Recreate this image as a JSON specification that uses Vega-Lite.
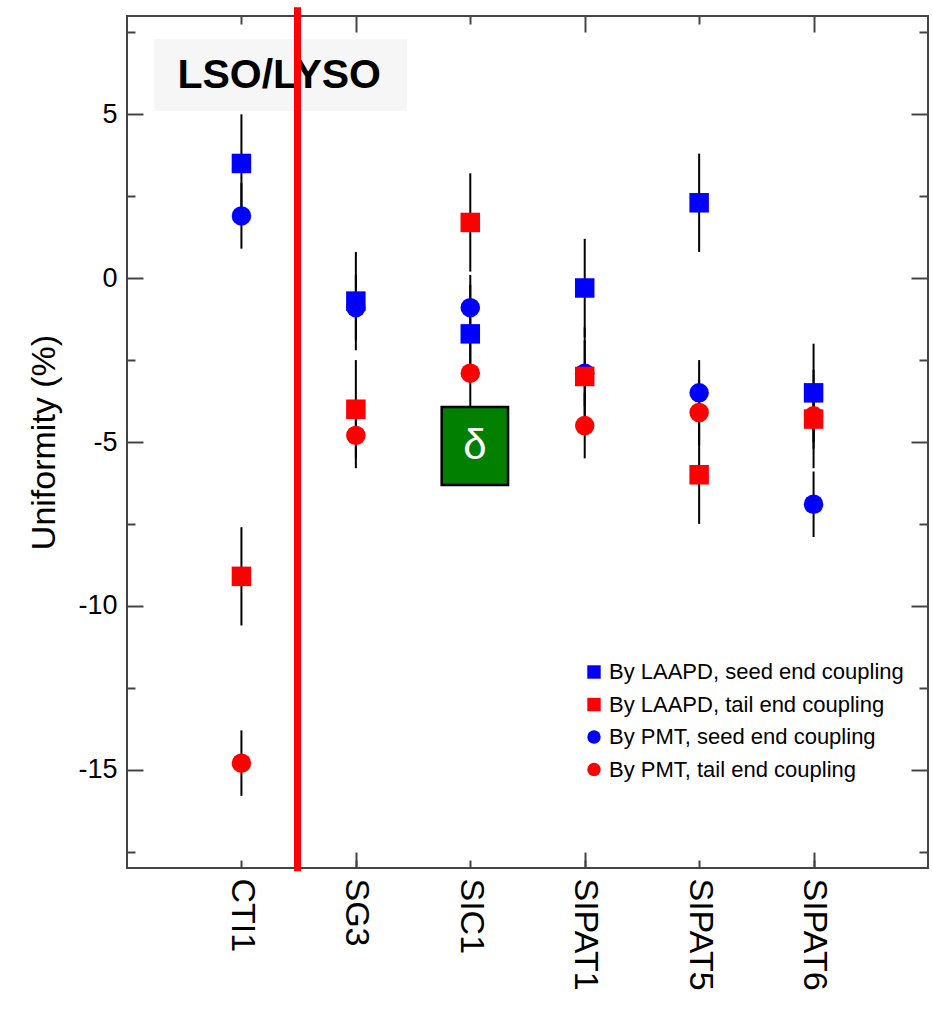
{
  "$schema": "https://vega.github.io/schema/vega-lite/v6.json",
  "width": 801,
  "height": 852,
  "autosize": {"type": "none"},
  "padding": {"left": 127, "top": 16, "right": 4, "bottom": 142},
  "background": "white",
  "config": {
    "font": "Liberation Sans",
    "view": {"stroke": "#444", "strokeWidth": 2},
    "axis": {"grid": false, "domain": false, "tickColor": "#444", "tickWidth": 2, "labelColor": "black", "titleColor": "black"}
  },
  "datasets": {
    "pts": [
      {"sample": "CTI1", "idx": 1, "series": "By PMT, seed end coupling", "value": 1.9, "lo": 0.9, "hi": 2.9},
      {"sample": "CTI1", "idx": 1, "series": "By PMT, tail end coupling", "value": -14.8, "lo": -15.8, "hi": -13.8},
      {"sample": "SG3", "idx": 2, "series": "By PMT, seed end coupling", "value": -0.9, "lo": -1.9, "hi": 0.1},
      {"sample": "SG3", "idx": 2, "series": "By PMT, tail end coupling", "value": -4.8, "lo": -5.8, "hi": -3.8},
      {"sample": "SIC1", "idx": 3, "series": "By PMT, seed end coupling", "value": -0.9, "lo": -1.9, "hi": 0.1},
      {"sample": "SIC1", "idx": 3, "series": "By PMT, tail end coupling", "value": -2.9, "lo": -3.9, "hi": -1.9},
      {"sample": "SIPAT1", "idx": 4, "series": "By PMT, seed end coupling", "value": -2.9, "lo": -3.9, "hi": -1.9},
      {"sample": "SIPAT1", "idx": 4, "series": "By PMT, tail end coupling", "value": -4.5, "lo": -5.5, "hi": -3.5},
      {"sample": "SIPAT5", "idx": 5, "series": "By PMT, seed end coupling", "value": -3.5, "lo": -4.5, "hi": -2.5},
      {"sample": "SIPAT5", "idx": 5, "series": "By PMT, tail end coupling", "value": -4.1, "lo": -5.1, "hi": -3.1},
      {"sample": "SIPAT6", "idx": 6, "series": "By PMT, seed end coupling", "value": -6.9, "lo": -7.9, "hi": -5.9},
      {"sample": "SIPAT6", "idx": 6, "series": "By PMT, tail end coupling", "value": -4.2, "lo": -5.2, "hi": -3.2},
      {"sample": "CTI1", "idx": 1, "series": "By LAAPD, seed end coupling", "value": 3.5, "lo": 2.0, "hi": 5.0},
      {"sample": "CTI1", "idx": 1, "series": "By LAAPD, tail end coupling", "value": -9.1, "lo": -10.6, "hi": -7.6},
      {"sample": "SG3", "idx": 2, "series": "By LAAPD, seed end coupling", "value": -0.7, "lo": -2.2, "hi": 0.8},
      {"sample": "SG3", "idx": 2, "series": "By LAAPD, tail end coupling", "value": -4.0, "lo": -5.5, "hi": -2.5},
      {"sample": "SIC1", "idx": 3, "series": "By LAAPD, seed end coupling", "value": -1.7, "lo": -3.2, "hi": -0.2},
      {"sample": "SIC1", "idx": 3, "series": "By LAAPD, tail end coupling", "value": 1.7, "lo": 0.2, "hi": 3.2},
      {"sample": "SIPAT1", "idx": 4, "series": "By LAAPD, seed end coupling", "value": -0.3, "lo": -1.8, "hi": 1.2},
      {"sample": "SIPAT1", "idx": 4, "series": "By LAAPD, tail end coupling", "value": -3.0, "lo": -4.5, "hi": -1.5},
      {"sample": "SIPAT5", "idx": 5, "series": "By LAAPD, seed end coupling", "value": 2.3, "lo": 0.8, "hi": 3.8},
      {"sample": "SIPAT5", "idx": 5, "series": "By LAAPD, tail end coupling", "value": -6.0, "lo": -7.5, "hi": -4.5},
      {"sample": "SIPAT6", "idx": 6, "series": "By LAAPD, seed end coupling", "value": -3.5, "lo": -5.0, "hi": -2.0},
      {"sample": "SIPAT6", "idx": 6, "series": "By LAAPD, tail end coupling", "value": -4.3, "lo": -5.8, "hi": -2.8}
    ],
    "lsobox": [{"x1": 0.236, "x2": 2.447, "y1": 7.29, "y2": 5.1, "tx": 1.33, "ty": 5.8, "label": "LSO/LYSO"}],
    "deltabox": [{"x1": 2.75, "x2": 3.33, "y1": -3.93, "y2": -6.31, "tx": 3.04, "ty": -5.13, "label": "δ"}],
    "divider": [{"x": 1.49, "ytop": 8.27, "ybot": -18.1}]
  },
  "resolve": {"scale": {"x": "shared", "y": "shared"}, "axis": {"x": "independent", "y": "independent"}},
  "layer": [
    {
      "data": {"name": "lsobox"},
      "mark": {"type": "rect", "fill": "#f6f6f6"},
      "encoding": {
        "x": {"field": "x1", "type": "quantitative", "scale": {"domain": [0, 7], "nice": false, "zero": false}, "axis": null},
        "x2": {"field": "x2"},
        "y": {"field": "y1", "type": "quantitative", "scale": {"domain": [-18, 8], "nice": false, "zero": false}, "axis": null},
        "y2": {"field": "y2"}
      }
    },
    {
      "data": {"name": "lsobox"},
      "mark": {"type": "text", "fontSize": 41, "fontWeight": "bold", "color": "black", "align": "center", "baseline": "alphabetic"},
      "encoding": {
        "x": {"field": "tx", "type": "quantitative", "axis": null},
        "y": {"field": "ty", "type": "quantitative", "axis": null},
        "text": {"field": "label"}
      }
    },
    {
      "mark": {"type": "rule", "color": "#444", "strokeWidth": 2},
      "encoding": {"y": {"datum": 0, "type": "quantitative", "axis": null}}
    },
    {
      "data": {"name": "pts"},
      "mark": {"type": "rule", "color": "black", "strokeWidth": 2},
      "encoding": {
        "x": {"field": "idx", "type": "quantitative",
          "axis": {"orient": "bottom", "values": [1, 2, 3, 4, 5, 6], "title": null,
            "labelExpr": "['','CTI1','SG3','SIC1','SIPAT1','SIPAT5','SIPAT6'][datum.value]",
            "labelAngle": 90, "labelAlign": "left", "labelBaseline": "middle", "labelFontSize": 34,
            "tickSize": -8, "labelPadding": 18}},
        "y": {"field": "lo", "type": "quantitative",
          "axis": {"orient": "left", "values": [-15, -10, -5, 0, 5], "title": "Uniformity (%)",
            "labelExpr": "'' + datum.value",
            "titleFontSize": 34, "titleFontWeight": "normal", "titlePadding": 16,
            "labelFontSize": 27, "tickSize": -16, "labelPadding": 26}},
        "y2": {"field": "hi"}
      }
    },
    {
      "data": {"name": "pts"},
      "mark": {"type": "point", "filled": true, "opacity": 1, "size": 380},
      "encoding": {
        "x": {"field": "idx", "type": "quantitative",
          "axis": {"orient": "top", "values": [1, 3, 5], "labels": false, "title": null, "tickSize": -8}},
        "y": {"field": "value", "type": "quantitative",
          "axis": {"orient": "right", "values": [-15, -10, -5, 0, 5], "labels": false, "title": null, "tickSize": -17}},
        "color": {"field": "series", "type": "nominal",
          "scale": {"domain": ["By LAAPD, seed end coupling", "By LAAPD, tail end coupling", "By PMT, seed end coupling", "By PMT, tail end coupling"],
            "range": ["#0000ff", "#ff0000", "#0000ff", "#ff0000"]},
          "legend": {"title": null, "orient": "none", "legendX": 456, "legendY": 645, "labelFontSize": 22,
            "labelLimit": 500, "labelColor": "black", "symbolSize": 180, "rowPadding": 10.5, "labelOffset": 4, "padding": 0, "symbolStrokeWidth": 0}},
        "shape": {"field": "series", "type": "nominal",
          "scale": {"domain": ["By LAAPD, seed end coupling", "By LAAPD, tail end coupling", "By PMT, seed end coupling", "By PMT, tail end coupling"],
            "range": ["square", "square", "circle", "circle"]}}
      }
    },
    {
      "data": {"name": "deltabox"},
      "mark": {"type": "rect", "fill": "#007f00", "stroke": "black", "strokeWidth": 2.5},
      "encoding": {
        "x": {"field": "x1", "type": "quantitative",
          "axis": {"orient": "bottom", "values": [2, 4, 6], "labels": false, "title": null, "tickSize": -16}},
        "x2": {"field": "x2"},
        "y": {"field": "y1", "type": "quantitative",
          "axis": {"orient": "left", "values": [-17.5, -12.5, -7.5, -2.5, 2.5, 7.5], "labels": false, "title": null, "tickSize": -8}},
        "y2": {"field": "y2"}
      }
    },
    {
      "data": {"name": "deltabox"},
      "mark": {"type": "text", "fontSize": 42, "color": "white", "align": "center", "baseline": "middle"},
      "encoding": {
        "x": {"field": "tx", "type": "quantitative",
          "axis": {"orient": "top", "values": [2, 4, 6], "labels": false, "title": null, "tickSize": -16}},
        "y": {"field": "ty", "type": "quantitative",
          "axis": {"orient": "right", "values": [-17.5, -12.5, -7.5, -2.5, 2.5, 7.5], "labels": false, "title": null, "tickSize": -9}},
        "text": {"field": "label"}
      }
    },
    {
      "data": {"name": "divider"},
      "mark": {"type": "rule", "color": "#ff0000", "strokeWidth": 7},
      "encoding": {
        "x": {"field": "x", "type": "quantitative", "axis": null},
        "y": {"field": "ytop", "type": "quantitative", "axis": null},
        "y2": {"field": "ybot"}
      }
    }
  ]
}
